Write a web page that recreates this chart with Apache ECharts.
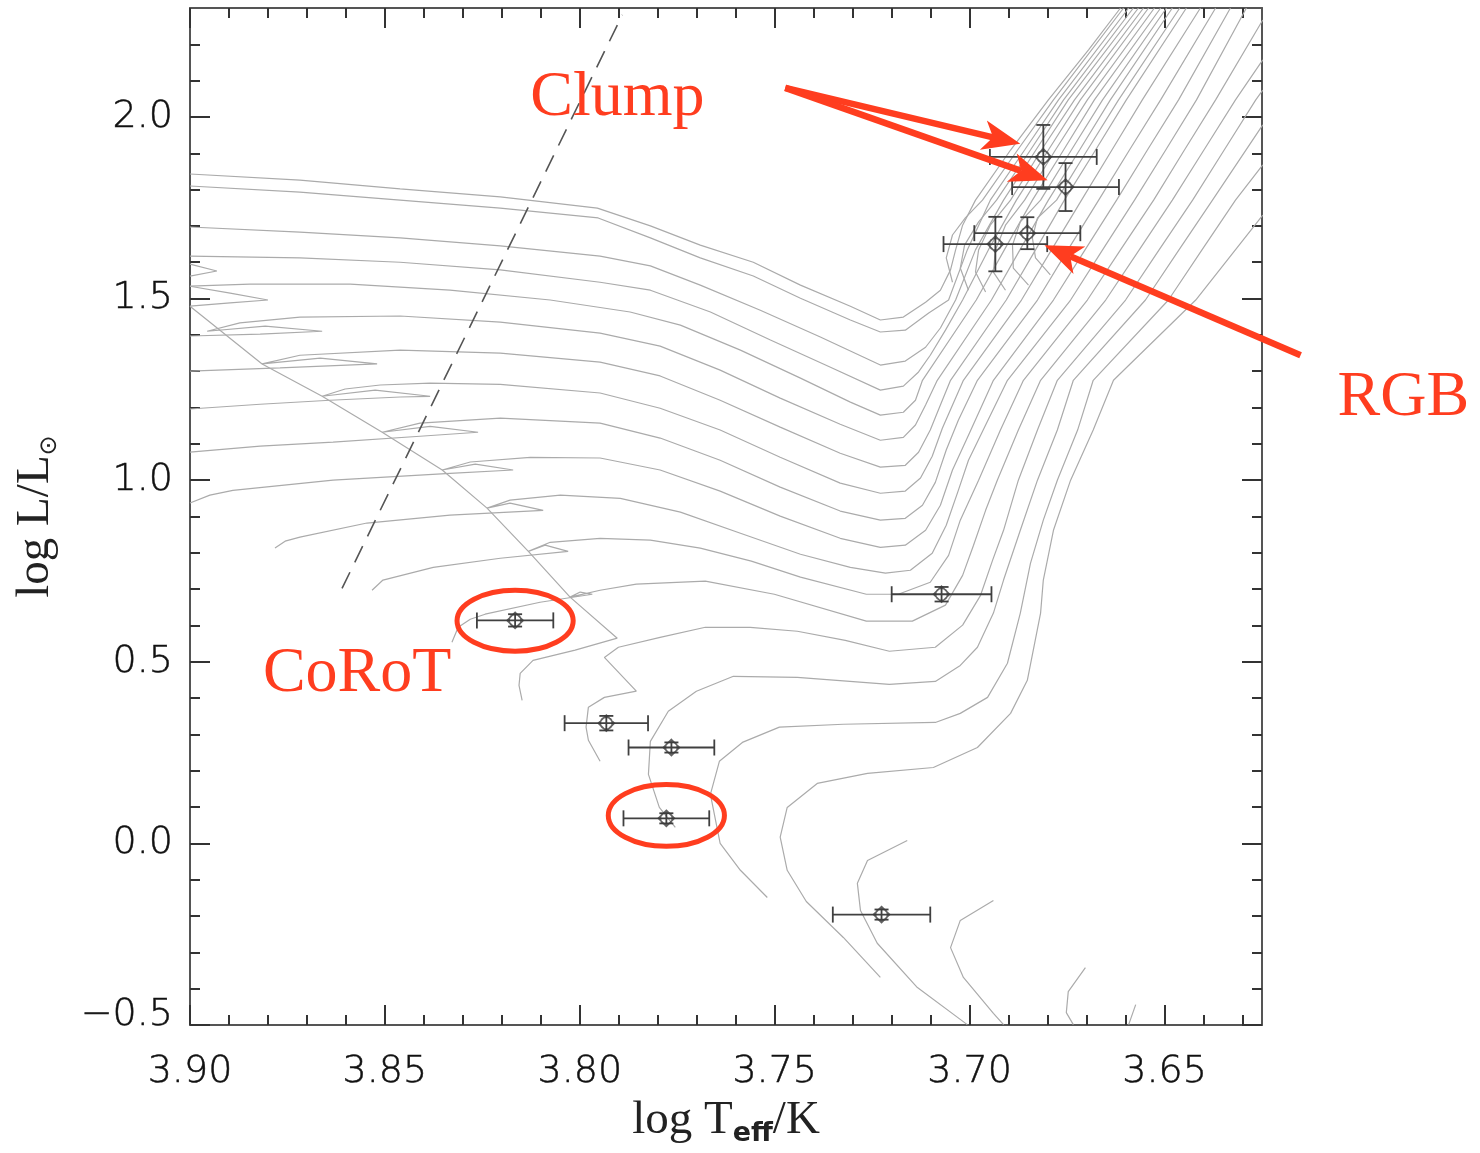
<!DOCTYPE html>
<html>
<head>
<meta charset="utf-8">
<script src="https://cdn.jsdelivr.net/npm/echarts@6/dist/echarts.min.js"></script>
<style>
  html, body { margin: 0; padding: 0; background: #ffffff; }
  #chart { width: 1480px; height: 1153px; }
</style>
</head>
<body>
<div id="chart"></div>
<script>
// ---- axes ------------------------------------------------------------
const xRange = [3.625, 3.90];          // log Teff, drawn hot -> cool (inverse)
const yRange = [-0.5, 2.3];            // log L/Lsun
const xMajorTicks = [3.90, 3.85, 3.80, 3.75, 3.70, 3.65];
const xMinorTicks = [3.89, 3.88, 3.87, 3.86, 3.84, 3.83, 3.82, 3.81, 3.79, 3.78, 3.77, 3.76,
                     3.74, 3.73, 3.72, 3.71, 3.69, 3.68, 3.67, 3.66, 3.64, 3.63];
const yMajorTicks = [-0.5, 0.0, 0.5, 1.0, 1.5, 2.0];
const yMinorTicks = [-0.4, -0.3, -0.2, -0.1, 0.1, 0.2, 0.3, 0.4, 0.6, 0.7, 0.8, 0.9,
                     1.1, 1.2, 1.3, 1.4, 1.6, 1.7, 1.8, 1.9, 2.1, 2.2];

// ---- evolutionary tracks [log Teff, log L] ---------------------------
const track01 = [[3.9000,1.843],[3.8718,1.826],[3.8461,1.802],[3.8204,1.780],[3.7955,1.749],[3.7819,1.700],[3.7691,1.647],[3.7555,1.600],[3.7434,1.537],[3.7306,1.479],[3.7229,1.441],[3.7170,1.449],[3.7113,1.490],[3.7075,1.523],[3.7049,1.579],[3.7036,1.634],[3.7018,1.702],[3.6985,1.771],[3.6895,1.909],[3.6798,2.047],[3.6695,2.185],[3.6613,2.300]];
const track02 = [[3.9000,1.810],[3.8718,1.793],[3.8461,1.771],[3.8204,1.749],[3.7953,1.722],[3.7819,1.667],[3.7691,1.612],[3.7555,1.562],[3.7434,1.501],[3.7306,1.441],[3.7229,1.408],[3.7165,1.413],[3.7105,1.460],[3.7054,1.496],[3.7006,1.634],[3.6947,1.771],[3.6859,1.909],[3.6772,2.047],[3.6592,2.300]];
const track03 = [[3.9000,1.697],[3.8718,1.683],[3.8461,1.667],[3.8204,1.645],[3.7948,1.617],[3.7819,1.590],[3.7691,1.537],[3.7537,1.468],[3.7383,1.394],[3.7229,1.317],[3.7165,1.328],[3.7113,1.366],[3.7075,1.419],[3.7036,1.496],[3.6985,1.634],[3.6913,1.771],[3.6830,1.909],[3.6747,2.047],[3.6567,2.300]];
const track04 = [[3.9000,1.617],[3.8718,1.612],[3.8461,1.600],[3.8204,1.579],[3.7948,1.545],[3.7819,1.523],[3.7665,1.463],[3.7511,1.386],[3.7357,1.311],[3.7229,1.248],[3.7170,1.259],[3.7131,1.298],[3.7101,1.344],[3.7062,1.413],[3.7018,1.496],[3.6952,1.634],[3.6880,1.771],[3.6798,1.909],[3.6716,2.047],[3.6541,2.300]];
const hookA   = [[3.9000,1.595],[3.8931,1.576],[3.9000,1.562]];
const hookB   = [[3.9000,1.479],[3.8897,1.488],[3.8800,1.496],[3.8897,1.515],[3.9000,1.534]];
const track05 = [[3.9000,1.534],[3.8846,1.540],[3.8589,1.540],[3.8333,1.523],[3.8076,1.496],[3.7871,1.463],[3.7742,1.427],[3.7588,1.358],[3.7434,1.281],[3.7306,1.215],[3.7229,1.179],[3.7170,1.187],[3.7139,1.220],[3.7121,1.275],[3.6983,1.496],[3.6911,1.634],[3.6839,1.771],[3.6759,1.909],[3.6680,2.047],[3.6510,2.300]];
const track06 = [[3.9000,1.397],[3.8820,1.402],[3.8661,1.410],[3.8807,1.424],[3.8956,1.410],[3.8872,1.433],[3.8718,1.449],[3.8461,1.452],[3.8204,1.435],[3.7948,1.405],[3.7794,1.369],[3.7640,1.303],[3.7486,1.226],[3.7332,1.154],[3.7229,1.110],[3.7170,1.118],[3.7139,1.152],[3.7113,1.207],[3.7083,1.275],[3.6944,1.496],[3.6871,1.634],[3.6798,1.771],[3.6718,1.909],[3.6639,2.047],[3.6480,2.300]];
const track07 = [[3.9000,1.300],[3.8769,1.309],[3.8520,1.320],[3.8666,1.336],[3.8815,1.320],[3.8718,1.344],[3.8461,1.358],[3.8204,1.350],[3.7948,1.325],[3.7794,1.287],[3.7640,1.220],[3.7486,1.146],[3.7332,1.074],[3.7229,1.036],[3.7165,1.041],[3.7131,1.077],[3.7101,1.138],[3.7075,1.207],[3.7049,1.275],[3.6906,1.496],[3.6831,1.634],[3.6757,1.771],[3.6677,1.909],[3.6598,2.047],[3.6444,2.300]];
const track08 = [[3.9000,1.196],[3.8820,1.209],[3.8641,1.220],[3.8461,1.229],[3.8384,1.231],[3.8525,1.248],[3.8661,1.231],[3.8602,1.251],[3.8512,1.262],[3.8384,1.267],[3.8204,1.264],[3.7948,1.240],[3.7794,1.198],[3.7640,1.138],[3.7486,1.063],[3.7332,0.992],[3.7229,0.964],[3.7165,0.970],[3.7126,1.006],[3.7096,1.066],[3.7070,1.143],[3.7016,1.275],[3.6867,1.496],[3.6790,1.634],[3.6713,1.771],[3.6635,1.909],[3.6557,2.047],[3.6408,2.300]];
const track09 = [[3.9000,1.077],[3.8820,1.094],[3.8633,1.105],[3.8410,1.121],[3.8261,1.132],[3.8384,1.148],[3.8507,1.132],[3.8410,1.157],[3.8204,1.171],[3.7948,1.157],[3.7794,1.116],[3.7640,1.055],[3.7486,0.981],[3.7332,0.915],[3.7229,0.890],[3.7165,0.895],[3.7121,0.931],[3.7088,0.994],[3.7060,1.083],[3.7029,1.165],[3.6980,1.275],[3.6826,1.496],[3.6748,1.634],[3.6669,1.771],[3.6590,1.909],[3.6510,2.047],[3.6369,2.300]];
const track10 = [[3.9000,0.937],[3.8949,0.959],[3.8890,0.972],[3.8633,1.000],[3.8333,1.019],[3.8171,1.028],[3.8268,1.044],[3.8353,1.028],[3.8281,1.050],[3.8127,1.063],[3.7948,1.061],[3.7794,1.028],[3.7640,0.970],[3.7486,0.901],[3.7332,0.840],[3.7229,0.815],[3.7165,0.821],[3.7113,0.862],[3.7075,0.931],[3.7044,1.028],[3.7003,1.124],[3.6939,1.275],[3.6785,1.496],[3.6704,1.634],[3.6623,1.771],[3.6544,1.909],[3.6464,2.047],[3.6331,2.300]];
const track11 = [[3.8782,0.813],[3.8756,0.832],[3.8718,0.843],[3.8546,0.882],[3.8333,0.904],[3.8094,0.917],[3.8179,0.937],[3.8238,0.923],[3.8179,0.945],[3.8050,0.959],[3.7896,0.950],[3.7742,0.912],[3.7588,0.854],[3.7434,0.796],[3.7306,0.760],[3.7216,0.744],[3.7152,0.752],[3.7096,0.799],[3.7060,0.876],[3.7029,0.972],[3.7003,1.055],[3.6959,1.152],[3.6903,1.275],[3.6741,1.496],[3.6659,1.634],[3.6577,1.771],[3.6497,1.909],[3.6418,2.047],[3.6290,2.300]];
const track12 = [[3.8533,0.697],[3.8505,0.725],[3.8376,0.760],[3.8204,0.785],[3.8030,0.804],[3.8089,0.821],[3.8132,0.804],[3.8076,0.829],[3.7948,0.840],[3.7819,0.835],[3.7691,0.813],[3.7560,0.777],[3.7434,0.733],[3.7265,0.686],[3.7183,0.686],[3.7101,0.719],[3.7054,0.793],[3.7024,0.890],[3.6977,1.000],[3.6921,1.138],[3.6862,1.275],[3.6698,1.496],[3.6613,1.634],[3.6528,1.771],[3.6449,1.909],[3.6369,2.047],[3.6248,2.267]];
const track13 = [[3.8328,0.554],[3.8312,0.595],[3.8281,0.617],[3.8243,0.631],[3.8102,0.664],[3.7968,0.686],[3.7999,0.692],[3.8025,0.678],[3.7948,0.697],[3.7855,0.714],[3.7678,0.722],[3.7501,0.686],[3.7265,0.612],[3.7147,0.612],[3.7062,0.656],[3.7018,0.738],[3.6990,0.821],[3.6959,0.917],[3.6929,1.000],[3.6875,1.138],[3.6818,1.275],[3.6651,1.496],[3.6565,1.634],[3.6480,1.771],[3.6399,1.909],[3.6318,2.047],[3.6248,2.157]];
const track14 = [[3.8148,0.394],[3.8156,0.435],[3.8153,0.468],[3.8120,0.504],[3.8012,0.532],[3.7904,0.565]];
const track15 = [[3.7948,0.226],[3.7978,0.284],[3.7984,0.320],[3.7978,0.375],[3.7937,0.402],[3.7855,0.419],[3.7937,0.512],[3.7901,0.540],[3.7794,0.567],[3.7678,0.595],[3.7563,0.595],[3.7442,0.584],[3.7319,0.559],[3.7206,0.529],[3.7088,0.540],[3.7018,0.601],[3.6972,0.683],[3.6941,0.780],[3.6913,0.862],[3.6875,1.000],[3.6826,1.138],[3.6775,1.275],[3.6600,1.496],[3.6514,1.634],[3.6428,1.771],[3.6347,1.909],[3.6266,2.047],[3.6248,2.074]];
const track16 = [[3.7755,0.044],[3.7796,0.099],[3.7824,0.190],[3.7819,0.281],[3.7773,0.364],[3.7701,0.419],[3.7606,0.460],[3.7442,0.457],[3.7206,0.438],[3.7088,0.446],[3.7024,0.490],[3.6980,0.540],[3.6939,0.634],[3.6913,0.725],[3.6870,0.862],[3.6826,1.000],[3.6775,1.138],[3.6734,1.275],[3.6549,1.496],[3.6463,1.634],[3.6377,1.771],[3.6248,1.978]];
const track17 = [[3.7519,-0.149],[3.7588,-0.074],[3.7640,0.000],[3.7665,0.135],[3.7642,0.226],[3.7583,0.278],[3.7488,0.320],[3.7324,0.328],[3.7088,0.333],[3.7024,0.358],[3.6954,0.402],[3.6903,0.496],[3.6870,0.634],[3.6844,0.771],[3.6811,0.890],[3.6775,1.000],[3.6723,1.138],[3.6683,1.275],[3.6490,1.496],[3.6404,1.634],[3.6318,1.771],[3.6248,1.868]];
const track18 = [[3.7229,-0.369],[3.7324,-0.259],[3.7419,-0.160],[3.7468,-0.074],[3.7486,0.017],[3.7468,0.099],[3.7391,0.165],[3.7262,0.193],[3.7093,0.209],[3.6980,0.264],[3.6895,0.358],[3.6852,0.449],[3.6818,0.634],[3.6811,0.725],[3.6785,0.862],[3.6741,1.000],[3.6683,1.138],[3.6631,1.275],[3.6420,1.496],[3.6248,1.730]];
const track19 = [[3.7160,0.008],[3.7262,-0.047],[3.7288,-0.110],[3.7280,-0.185],[3.7237,-0.275],[3.7134,-0.397],[3.7006,-0.499]];
const track20 = [[3.6939,-0.157],[3.7024,-0.212],[3.7049,-0.287],[3.7016,-0.369],[3.6939,-0.468],[3.6913,-0.499]];
const track21 = [[3.6703,-0.342],[3.6747,-0.408],[3.6752,-0.466],[3.6734,-0.499]];
const track22 = [[3.6574,-0.444],[3.6592,-0.499]];
// locus joining the blue ends of the main-sequence hooks
const hookLocus = [[3.9000,1.479],[3.8815,1.320],[3.8661,1.231],[3.8507,1.132],[3.8353,1.028],[3.8238,0.923],[3.8132,0.804],[3.8025,0.678],[3.7904,0.565]];
// helium-burning loops and the branches above the clump
const clump1 = [[3.7044,1.545],[3.7060,1.612],[3.7044,1.675],[3.7011,1.722],[3.6967,1.771],[3.6877,1.909],[3.6785,2.047],[3.6605,2.300]];
const clump2 = [[3.7003,1.523],[3.7024,1.584],[3.7013,1.647],[3.6977,1.711],[3.6931,1.771],[3.6844,1.909],[3.6759,2.047],[3.6580,2.300]];
const clump3 = [[3.6959,1.518],[3.6985,1.573],[3.6977,1.634],[3.6947,1.702],[3.6895,1.771],[3.6816,1.909],[3.6731,2.047],[3.6554,2.300]];
const clump4 = [[3.6908,1.523],[3.6939,1.573],[3.6934,1.634],[3.6908,1.702],[3.6859,1.771],[3.6780,1.909],[3.6698,2.047],[3.6526,2.300]];
const clump5 = [[3.6849,1.537],[3.6888,1.584],[3.6890,1.647],[3.6870,1.711],[3.6818,1.771],[3.6739,1.909],[3.6659,2.047],[3.6495,2.300]];
const clump6 = [[3.6793,1.565],[3.6831,1.612],[3.6839,1.667],[3.6826,1.722],[3.6777,1.771],[3.6698,1.909],[3.6618,2.047],[3.6461,2.300]];

// instability-strip edge (dashed)
const stripEdge = [[3.8610, 0.702], [3.7891, 2.281]];

// ---- observed stars ----------------------------------------------------
const starTeff    = [3.8166, 3.7932, 3.7765, 3.7778, 3.7072, 3.7226, 3.6811, 3.6754, 3.6934, 3.6852];
const starLum     = [0.614, 0.331, 0.264, 0.069, 0.686, -0.196, 1.890, 1.807, 1.650, 1.680];
const starTeffErr = [0.0098, 0.0107, 0.0110, 0.0110, 0.0128, 0.0125, 0.0137, 0.0137, 0.0133, 0.0136];
const starLumErr  = [0.017, 0.020, 0.014, 0.014, 0.020, 0.014, 0.088, 0.066, 0.075, 0.044];

// ---- annotations (data coordinates) -----------------------------------
const noteTexts  = ['Clump', 'CoRoT', 'RGB'];
const noteAnchor = [[3.8127, 2.052], [3.8813, 0.466], [3.6056, 1.226]];
const ringCenter = [[3.8166, 0.613], [3.7778, 0.077]];
const ringHalf   = [[0.0149, 0.084], [0.0149, 0.085]];
const arrowFrom  = [[3.7473, 2.080], [3.7473, 2.080], [3.6151, 1.344]];
const arrowTo    = [[3.6870, 1.926], [3.6800, 1.826], [3.6808, 1.647]];

const RED = '#FF3D1F';
const TRACK_GREY = '#ababab';

const tracks = [track01, track02, track03, track04, hookA, hookB, track05, track06, track07,
  track08, track09, track10, track11, track12, track13, track14, track15, track16, track17,
  track18, track19, track20, track21, track22, hookLocus,
  clump1, clump2, clump3, clump4, clump5, clump6];

const chart = echarts.init(document.getElementById('chart'), null, { renderer: 'canvas' });

const labelFont = { fontFamily: 'DejaVu Sans', fontWeight: 200, fontSize: 38, color: '#111',
                    textBorderColor: '#111', textBorderWidth: 0.5 };

function xAxisDef(position, ticks, len, withLine, withLabels) {
  return {
    type: 'value', position: position, min: xRange[0], max: xRange[1], inverse: true,
    axisLine: { show: withLine, onZero: false, lineStyle: { color: '#555', width: 2 } },
    axisTick: { show: true, inside: true, length: len, customValues: ticks,
                lineStyle: { color: '#333', width: 2 } },
    axisLabel: withLabels ? Object.assign({ show: true, customValues: ticks, margin: 28,
                showMinLabel: true, showMaxLabel: true,
                formatter: v => v.toFixed(2) }, labelFont) : { show: false },
    splitLine: { show: false }, minorTick: { show: false }
  };
}
function yAxisDef(position, ticks, len, withLine, withLabels) {
  return {
    type: 'value', position: position, min: yRange[0], max: yRange[1],
    axisLine: { show: withLine, onZero: false, lineStyle: { color: '#555', width: 2 } },
    axisTick: { show: true, inside: true, length: len, customValues: ticks,
                lineStyle: { color: '#333', width: 2 } },
    axisLabel: withLabels ? Object.assign({ show: true, customValues: ticks, margin: 17,
                showMinLabel: true, showMaxLabel: true,
                formatter: v => (v < 0 ? '{lo|\u2212' + Math.abs(v).toFixed(1) + '}' : v.toFixed(1)),
                rich: { lo: Object.assign({ padding: [0, 0, 20, 0] }, labelFont) } }, labelFont)
              : { show: false },
    splitLine: { show: false }, minorTick: { show: false }
  };
}

const xAxes = [
  xAxisDef('bottom', xMajorTicks, 20, true, true),
  xAxisDef('bottom', xMinorTicks, 10, false, false),
  xAxisDef('top', xMajorTicks, 20, true, false),
  xAxisDef('top', xMinorTicks, 10, false, false)
];
xAxes[0].name = '{n|log T}{s|eff}{n|/K}';
xAxes[0].nameLocation = 'middle';
xAxes[0].nameGap = 70;
xAxes[0].nameTextStyle = { rich: {
  n: { fontFamily: 'Liberation Serif', fontSize: 47, color: '#222', lineHeight: 52, verticalAlign: 'middle' },
  s: { fontFamily: 'DejaVu Sans', fontWeight: 'bold', fontSize: 27, color: '#222', lineHeight: 20, verticalAlign: 'bottom' }
} };

const yAxes = [
  yAxisDef('left', yMajorTicks, 20, true, true),
  yAxisDef('left', yMinorTicks, 10, false, false),
  yAxisDef('right', yMajorTicks, 20, true, false),
  yAxisDef('right', yMinorTicks, 10, false, false)
];
yAxes[0].name = '{n|log L/L}{s|\u2299}';
yAxes[0].nameLocation = 'middle';
yAxes[0].nameRotate = 90;
yAxes[0].nameGap = 128;
yAxes[0].nameTextStyle = { rich: {
  n: { fontFamily: 'Liberation Serif', fontSize: 47, color: '#222', lineHeight: 52, verticalAlign: 'middle' },
  s: { fontFamily: 'DejaVu Sans', fontSize: 24, color: '#222', lineHeight: 20, verticalAlign: 'bottom' }
} };

const trackSeries = tracks.map(d => ({
  type: 'line', data: d, xAxisIndex: 0, yAxisIndex: 0,
  showSymbol: false, symbol: 'none', silent: true, z: 2, clip: true,
  lineStyle: { color: TRACK_GREY, width: 1.2 }
}));

const starData = starTeff.map((t, i) => [t, starLum[i], starTeffErr[i], starLumErr[i]]);

const errorBars = {
  type: 'custom', xAxisIndex: 0, yAxisIndex: 0, z: 5, silent: true,
  data: starData,
  encode: { x: 0, y: 1 },
  renderItem: function (params, api) {
    const x = api.value(0), y = api.value(1), ex = api.value(2), ey = api.value(3);
    const l = api.coord([x + ex, y]);
    const r = api.coord([x - ex, y]);
    const t = api.coord([x, y + ey]);
    const b = api.coord([x, y - ey]);
    const cap = 8;
    const st = { stroke: '#404040', lineWidth: 1.8 };
    return { type: 'group', children: [
      { type: 'line', shape: { x1: l[0], y1: l[1], x2: r[0], y2: r[1] }, style: st },
      { type: 'line', shape: { x1: l[0], y1: l[1] - cap, x2: l[0], y2: l[1] + cap }, style: st },
      { type: 'line', shape: { x1: r[0], y1: r[1] - cap, x2: r[0], y2: r[1] + cap }, style: st },
      { type: 'line', shape: { x1: t[0], y1: t[1], x2: b[0], y2: b[1] }, style: st },
      { type: 'line', shape: { x1: t[0] - 7, y1: t[1], x2: t[0] + 7, y2: t[1] }, style: st },
      { type: 'line', shape: { x1: b[0] - 7, y1: b[1], x2: b[0] + 7, y2: b[1] }, style: st }
    ] };
  }
};

const starMarks = {
  type: 'scatter', xAxisIndex: 0, yAxisIndex: 0, z: 6, silent: true,
  data: starData.map(d => [d[0], d[1]]),
  symbol: 'path://M0,-10 L10,0 L0,10 L-10,0 Z M-7.5,0 A7.5,7.5 0 1 1 7.5,0 A7.5,7.5 0 1 1 -7.5,0 Z',
  symbolSize: 16,
  itemStyle: { color: 'rgba(0,0,0,0)', borderColor: '#3a3a3a', borderWidth: 1.6 }
};

const stripSeries = {
  type: 'line', data: stripEdge, xAxisIndex: 0, yAxisIndex: 0, showSymbol: false, symbol: 'none',
  silent: true, z: 3, lineStyle: { color: '#555', width: 1.6, type: [18, 11] }
};

chart.setOption({
  animation: false,
  backgroundColor: '#ffffff',
  grid: { left: 190, right: 218, top: 8, bottom: 128, containLabel: false, outerBoundsMode: 'none' },
  xAxis: xAxes,
  yAxis: yAxes,
  series: trackSeries.concat([stripSeries, errorBars, starMarks])
});

// ---- red annotations, placed from data coordinates -----------------------
function toPx(p) { return chart.convertToPixel({ xAxisIndex: 0, yAxisIndex: 0 }, p); }

const graphics = [];
noteTexts.forEach((txt, i) => {
  const p = toPx(noteAnchor[i]);
  graphics.push({ type: 'text', z: 100, silent: true,
    style: { text: txt, x: p[0], y: p[1], fill: RED, font: '64px "Liberation Serif", "Times New Roman", serif',
             textAlign: 'left', textVerticalAlign: 'middle' } });
});
ringCenter.forEach((c, i) => {
  const p = toPx(c);
  const e = toPx([c[0] - ringHalf[i][0], c[1] + ringHalf[i][1]]);
  graphics.push({ type: 'ellipse', z: 100, silent: true,
    shape: { cx: p[0], cy: p[1], rx: Math.abs(e[0] - p[0]), ry: Math.abs(p[1] - e[1]) },
    style: { fill: 'none', stroke: RED, lineWidth: 5 } });
});
arrowFrom.forEach((f, i) => {
  const a = toPx(f), b = toPx(arrowTo[i]);
  const dx = b[0] - a[0], dy = b[1] - a[1], len = Math.hypot(dx, dy);
  const ux = dx / len, uy = dy / len, nx = -uy, ny = ux;
  const L = 38, W = 15, N = 28;
  const base = [b[0] - ux * N, b[1] - uy * N];
  graphics.push({ type: 'line', z: 100, silent: true,
    shape: { x1: a[0], y1: a[1], x2: base[0], y2: base[1] },
    style: { stroke: RED, lineWidth: 6.5 } });
  graphics.push({ type: 'polygon', z: 100, silent: true,
    shape: { points: [[b[0], b[1]], [b[0] - ux * L + nx * W, b[1] - uy * L + ny * W], base,
                      [b[0] - ux * L - nx * W, b[1] - uy * L - ny * W]] },
    style: { fill: RED } });
});
chart.setOption({ graphic: { elements: graphics } });
</script>
</body>
</html>
